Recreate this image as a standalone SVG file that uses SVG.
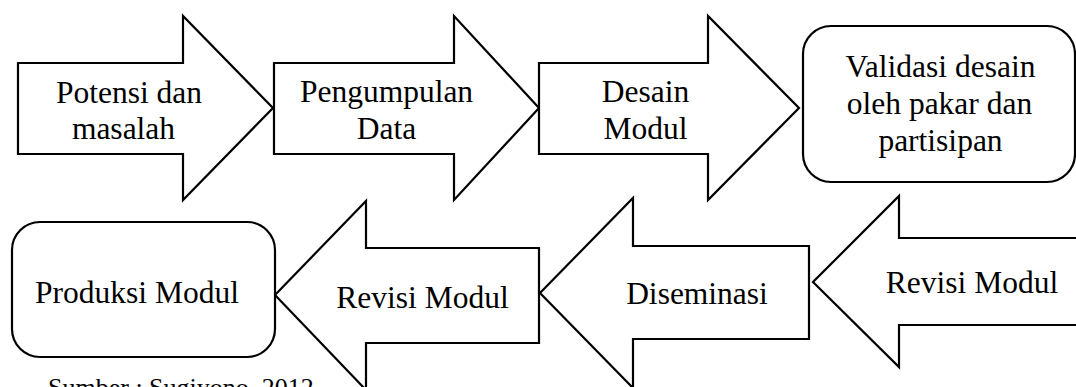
<svg xmlns="http://www.w3.org/2000/svg" width="1076" height="387" viewBox="0 0 1076 387">
<style>
.s{fill:#fff;stroke:#000;stroke-width:2.2;stroke-linejoin:miter}
.t{font-family:"Liberation Serif","Times New Roman",serif;font-size:31.5px;fill:#000;text-anchor:middle}
.c{font-family:"Liberation Serif","Times New Roman",serif;font-size:26px;fill:#000}
</style>
<rect width="1076" height="387" fill="#fff"/>
<g id="connectors"></g>
<g id="n1">
<polygon class="s" points="18,63 183,63 183,16 273,108 183,200 183,154 18,154"/>
<text class="t" x="129" y="103">Potensi dan</text>
<text class="t" x="123.5" y="139">masalah</text>
</g>
<g id="n2">
<polygon class="s" points="274,63 454,63 454,16 539,108 454,200 454,154 274,154"/>
<text class="t" x="386.5" y="102">Pengumpulan</text>
<text class="t" x="386.5" y="139">Data</text>
</g>
<g id="n3">
<polygon class="s" points="539,63 708,63 708,16 799,108 708,200 708,154 539,154"/>
<text class="t" x="645.5" y="102">Desain</text>
<text class="t" x="645.5" y="139">Modul</text>
</g>
<g id="n4">
<rect class="s" x="803" y="26" width="272" height="156" rx="28" ry="28"/>
<text class="t" x="940.5" y="77">Validasi desain</text>
<text class="t" x="939.5" y="114">oleh pakar dan</text>
<text class="t" x="940.5" y="151">partisipan</text>
</g>
<g id="n5">
<polygon class="s" points="1090,238 899,238 899,196 813,282 899,367 899,325 1090,325"/>
<text class="t" x="972" y="293">Revisi Modul</text>
</g>
<g id="n6">
<polygon class="s" points="809,246 633,246 633,198 540,293 633,388 633,339 809,339"/>
<text class="t" x="697" y="304">Diseminasi</text>
</g>
<g id="n7">
<polygon class="s" points="539,248 366,248 366,201 275,295 366,390 366,343 539,343"/>
<text class="t" x="422.5" y="308">Revisi Modul</text>
</g>
<g id="n8">
<rect class="s" x="12" y="222" width="263" height="135" rx="28" ry="28"/>
<text class="t" x="137" y="303">Produksi Modul</text>
</g>
<text class="c" x="48" y="396">Sumber : Sugiyono, 2012</text>
</svg>
